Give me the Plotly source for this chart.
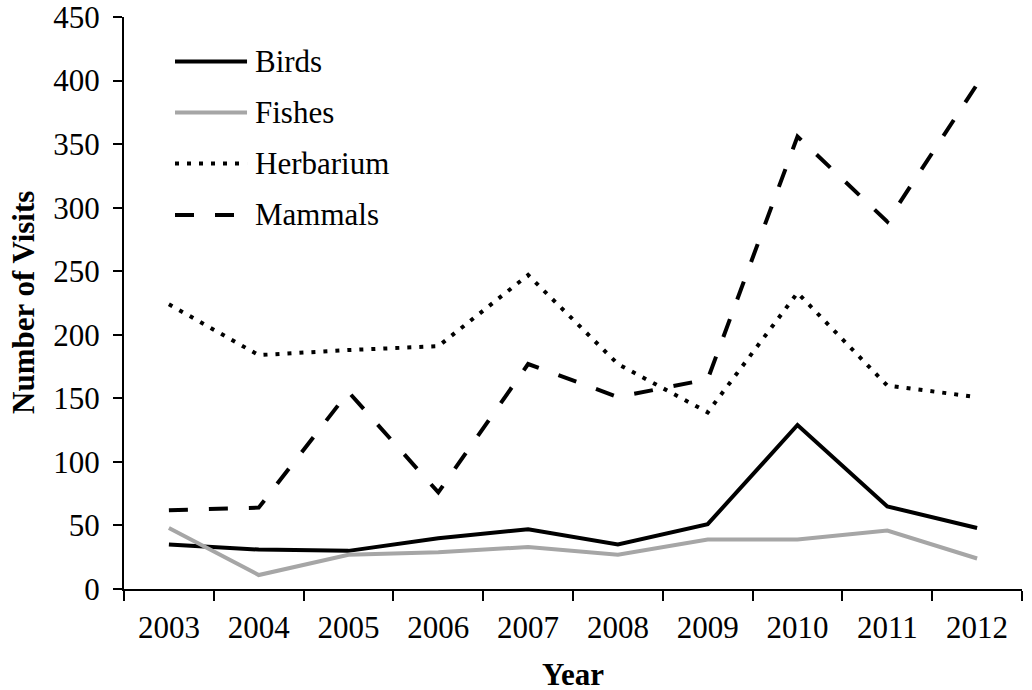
import plotly.graph_objects as go

years = ["2003", "2004", "2005", "2006", "2007", "2008", "2009", "2010", "2011", "2012"]
birds = [35, 31, 30, 40, 47, 35, 51, 129, 65, 48]
fishes = [48, 11, 27, 29, 33, 27, 39, 39, 46, 24]
herbarium = [224, 184, 188, 191, 247, 177, 139, 233, 160, 151]
mammals = [62, 64, 155, 76, 177, 151, 165, 356, 289, 397]

series = [
    ("Birds", birds, dict(color="black", width=4)),
    ("Fishes", fishes, dict(color="#a6a6a6", width=4)),
    ("Herbarium", herbarium, dict(color="black", width=4, dash="4px,8px")),
    ("Mammals", mammals, dict(color="black", width=4, dash="19px,21px")),
]

FONT = "Liberation Serif, Times New Roman, serif"
FS = 31

fig = go.Figure()
for name, vals, line in series:
    fig.add_trace(go.Scatter(x=years, y=vals, mode="lines", name=name, line=line,
                             showlegend=False))

# custom legend (lines + text) in paper coordinates
leg_y = [0.922, 0.833, 0.744, 0.654]
x0, x1, xt = 0.0568, 0.137, 0.1437
for (name, vals, line), yy in zip(series, leg_y):
    fig.add_shape(type="line", xref="paper", yref="paper", x0=x0, x1=x1, y0=yy, y1=yy,
                  line=dict(color=line["color"], width=line["width"], dash=line.get("dash", "solid")))
    fig.add_annotation(xref="paper", yref="paper", x=xt, y=yy, text=name, showarrow=False,
                       xanchor="left", yanchor="middle",
                       font=dict(family=FONT, size=FS, color="black"))

# axis titles
fig.add_annotation(xref="paper", yref="paper", x=0.5, y=0, yanchor="top", yshift=-67,
                   height=32, valign="middle",
                   text="<b>Year</b>", showarrow=False, font=dict(family=FONT, size=FS))
fig.add_annotation(xref="paper", yref="paper", x=0, y=0.5, xanchor="center", xshift=-101,
                   text="<b>Number of Visits</b>", textangle=-90, showarrow=False,
                   font=dict(family=FONT, size=FS))

fig.update_layout(
    width=1032, height=690,
    margin=dict(l=124, r=10, t=17, b=101, autoexpand=False),
    paper_bgcolor="white", plot_bgcolor="white",
    font=dict(family=FONT, size=FS, color="black"),
    xaxis=dict(
        type="category", range=[-0.5, 9.5], tickson="boundaries", automargin=False,
        showline=True, linecolor="black", linewidth=2,
        ticks="outside", ticklen=10, tickwidth=2, tickcolor="black",
        showgrid=False, zeroline=False, ticklabelstandoff=10, ticklabeloverflow="allow",
        tickfont=dict(family=FONT, size=FS),
    ),
    yaxis=dict(
        range=[0, 450], dtick=50, tick0=0, automargin=False,
        showline=True, linecolor="black", linewidth=2,
        ticks="outside", ticklen=9, tickwidth=2, tickcolor="black",
        showgrid=False, zeroline=False, ticklabelstandoff=7, ticklabeloverflow="allow",
        tickfont=dict(family=FONT, size=FS),
    ),
)

fig.write_html("out.html", config={"displayModeBar": False},
               post_script="document.body.style.margin='0';document.body.style.overflow='hidden';")
